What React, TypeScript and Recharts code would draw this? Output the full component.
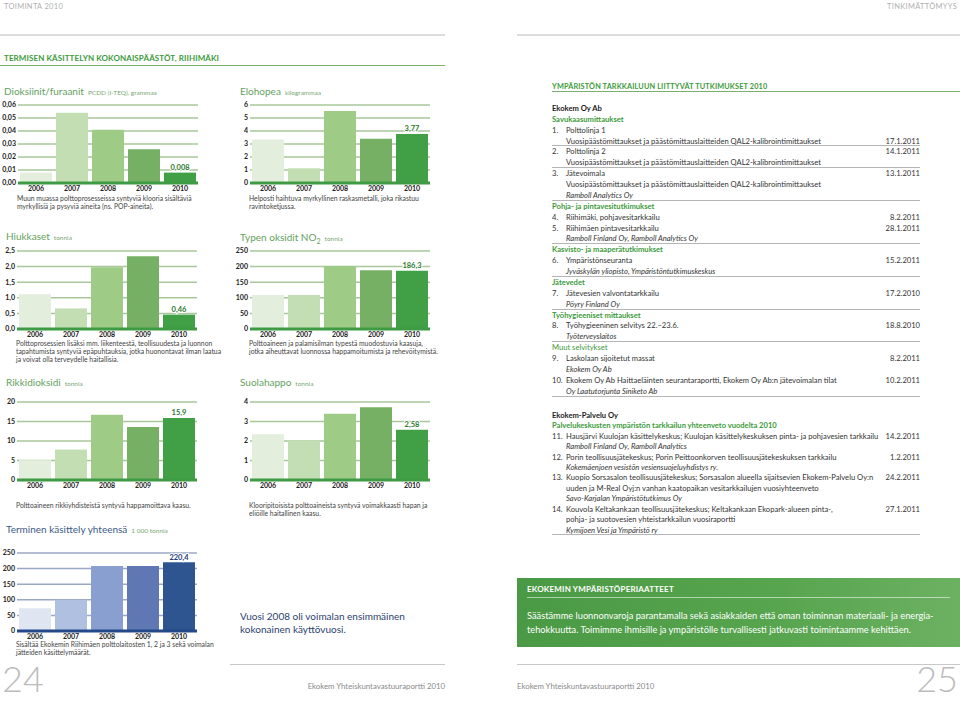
import { BarChart, Bar, XAxis, YAxis, CartesianGrid, Cell, LabelList } from 'recharts';

const years = ['2006', '2007', '2008', '2009', '2010'];

const dioxinValues = [0.008, 0.054, 0.041, 0.026, 0.008];
const mercuryValues = [3.35, 1.13, 5.54, 3.41, 3.77];
const particleValues = [1.11, 0.66, 1.98, 2.33, 0.46];
const noxValues = [109, 109, 202, 188, 186.3];
const so2Values = [5.1, 7.8, 16.7, 13.6, 15.9];
const hclValues = [2.34, 2.03, 3.4, 3.73, 2.58];
const thermalValues = [73, 100, 208, 208, 220.4];

const dioxinTicks = [0, 0.01, 0.02, 0.03, 0.04, 0.05, 0.06];
const mercuryTicks = [0, 1, 2, 3, 4, 5, 6];
const particleTicks = [0, 0.5, 1, 1.5, 2, 2.5];
const noxTicks = [0, 50, 100, 150, 200, 250];
const so2Ticks = [0, 5, 10, 15, 20];
const hclTicks = [0, 1, 2, 3, 4];
const thermalTicks = [0, 50, 100, 150, 200, 250];

const greenShades = ['#e3eedd', '#c4deb4', '#9ecb86', '#76b064', '#41a045'];
const blueShades = ['#dfe5f1', '#b0c0e0', '#889fcf', '#5f78b3', '#2f5591'];

// rows of the right-hand list: [kind, number, text, date, rule below]
const ekokemRows = [
  ['co', '', 'Ekokem Oy Ab', '', 0],
  ['h', '', 'Savukaasumittaukset', '', 0],
  ['i', '1.', 'Polttolinja 1', '', 0],
  ['i', '', 'Vuosipäästömittaukset ja päästömittauslaitteiden QAL2-kalibrointimittaukset', '17.1.2011', 1],
  ['i', '2.', 'Polttolinja 2', '14.1.2011', 0],
  ['i', '', 'Vuosipäästömittaukset ja päästömittauslaitteiden QAL2-kalibrointimittaukset', '', 1],
  ['i', '3.', 'Jätevoimala', '13.1.2011', 0],
  ['i', '', 'Vuosipäästömittaukset ja päästömittauslaitteiden QAL2-kalibrointimittaukset', '', 0],
  ['e', '', 'Ramboll Analytics Oy', '', 1],
  ['h', '', 'Pohja- ja pintavesitutkimukset', '', 0],
  ['i', '4.', 'Riihimäki, pohjavesitarkkailu', '8.2.2011', 0],
  ['i', '5.', 'Riihimäen pintavesitarkkailu', '28.1.2011', 0],
  ['e', '', 'Ramboll Finland Oy, Ramboll Analytics Oy', '', 1],
  ['h', '', 'Kasvisto- ja maaperätutkimukset', '', 0],
  ['i', '6.', 'Ympäristönseuranta', '15.2.2011', 0],
  ['e', '', 'Jyväskylän yliopisto, Ympäristöntutkimuskeskus', '', 1],
  ['h', '', 'Jätevedet', '', 0],
  ['i', '7.', 'Jätevesien valvontatarkkailu', '17.2.2010', 0],
  ['e', '', 'Pöyry Finland Oy', '', 1],
  ['h', '', 'Työhygieeniset mittaukset', '', 0],
  ['i', '8.', 'Työhygieeninen selvitys 22.–23.6.', '18.8.2010', 0],
  ['e', '', 'Työterveyslaitos', '', 1],
  ['m', '', 'Muut selvitykset', '', 0],
  ['i', '9.', 'Laskolaan sijoitetut massat', '8.2.2011', 0],
  ['e', '', 'Ekokem Oy Ab', '', 0],
  ['i', '10.', 'Ekokem Oy Ab Haittaeläinten seurantaraportti, Ekokem Oy Ab:n jätevoimalan tilat', '10.2.2011', 0],
  ['e', '', 'Oy Laatutorjunta Siniketo Ab', '', 1],
];

const palveluRows = [
  ['co', '', 'Ekokem-Palvelu Oy', '', 0],
  ['h', '', 'Palvelukeskusten ympäristön tarkkailun yhteenveto vuodelta 2010', '', 0],
  ['i', '11.', 'Hausjärvi Kuulojan käsittelykeskus; Kuulojan käsittelykeskuksen pinta- ja pohjavesien tarkkailu', '14.2.2011', 0],
  ['e', '', 'Ramboll Finland Oy, Ramboll Analytics', '', 0],
  ['i', '12.', 'Porin teollisuusjätekeskus; Porin Peittoonkorven teollisuusjätekeskuksen tarkkailu', '1.2.2011', 0],
  ['e', '', 'Kokemäenjoen vesistön vesiensuojeluyhdistys ry.', '', 0],
  ['i', '13.', 'Kuopio Sorsasalon teollisuusjätekeskus; Sorsasalon alueella sijaitsevien Ekokem-Palvelu Oy:n', '24.2.2011', 0],
  ['i', '', 'uuden ja M-Real Oyj:n vanhan kaatopaikan vesitarkkailujen vuosiyhteenveto', '', 0],
  ['e', '', 'Savo-Karjalan Ympäristötutkimus Oy', '', 0],
  ['i', '14.', 'Kouvola Keltakankaan teollisuusjätekeskus; Keltakankaan Ekopark-alueen pinta-,', '27.1.2011', 0],
  ['i', '', 'pohja- ja suotovesien yhteistarkkailun vuosiraportti', '', 0],
  ['e', '', 'Kymijoen Vesi ja Ympäristö ry', '', 1],
];

const FONT = 'Lato, "Open Sans", sans-serif';
const TITLE_GREEN = '#64a25e';
const HEAD_GREEN = '#3c9a3a';

function comma(v: number, d: number) {
  return v.toFixed(d).replace('.', ',');
}

function MiniChart({ plotLeft, plotTop, values, ticks, tickDec, labelDec, shades, base, grid, labelColor }: any) {
  const yw = 18;
  const mt = 8;
  const mr = 4;
  const xh = 14;
  const plotW = 180;
  const plotH = 78;
  const data = years.map((year, i) => ({
    year,
    value: values[i],
    tag: i === years.length - 1 ? comma(values[i], labelDec) : null,
  }));
  const renderTag = (props: any) => {
    if (props.value == null) return null;
    const vb = props.viewBox || props;
    return (
      <text
        x={vb.x + vb.width / 2}
        y={vb.y - 2.5}
        textAnchor="middle"
        fontSize={7.5}
        fontWeight={700}
        fill={labelColor}
        stroke="#ffffff"
        strokeWidth={2}
        paintOrder="stroke"
      >
        {props.value}
      </text>
    );
  };
  return (
    <div style={{ position: 'absolute', left: plotLeft - yw, top: plotTop - mt }}>
      <BarChart
        width={yw + plotW + mr}
        height={mt + plotH + xh}
        data={data}
        margin={{ top: mt, right: mr, bottom: 0, left: 0 }}
      >
        <CartesianGrid vertical={false} stroke={grid} strokeWidth={1.5} />
        <XAxis
          dataKey="year"
          height={xh}
          interval={0}
          tickLine={false}
          tickSize={0}
          tickMargin={3}
          axisLine={{ stroke: base, strokeWidth: 3 }}
          tick={{ fontSize: 7, fontWeight: 700, fill: '#222' }}
        />
        <YAxis
          width={yw}
          domain={[0, ticks[ticks.length - 1]]}
          ticks={ticks}
          interval={0}
          tickFormatter={(v: number) => comma(v, tickDec)}
          tickLine={false}
          tickSize={0}
          axisLine={false}
          tickMargin={2}
          tick={{ fontSize: 7, fontWeight: 700, fill: '#222' }}
        />
        <Bar dataKey="value" barSize={32} isAnimationActive={false}>
          {data.map((d, i) => (
            <Cell key={d.year} fill={shades[i]} />
          ))}
          <LabelList dataKey="tag" content={renderTag} />
        </Bar>
      </BarChart>
    </div>
  );
}

function Title({ left, top, text, sub, color = TITLE_GREEN, children }: any) {
  return (
    <div style={{ position: 'absolute', left, top, fontSize: 10, lineHeight: '12px', color, whiteSpace: 'nowrap' }}>
      {text}
      {children}
      <span style={{ fontSize: 6.5, marginLeft: 4, color: '#7aa874' }}>{sub}</span>
    </div>
  );
}

function Caption({ left, top, lines }: any) {
  return (
    <div style={{ position: 'absolute', left, top, fontSize: 6.8, lineHeight: '8px', color: '#444', whiteSpace: 'nowrap' }}>
      {lines.map((l: string) => (
        <div key={l}>{l}</div>
      ))}
    </div>
  );
}

function ListBlock({ rows, top, rowH }: any) {
  return (
    <div style={{ position: 'absolute', left: 552, top, width: 368, fontSize: 7.6 }}>
      {rows.map(([kind, num, text, date, rule]: any, i: number) => {
        const isHead = kind === 'co' || kind === 'h' || kind === 'm';
        return (
          <div key={i} style={{ position: 'relative', height: rowH, lineHeight: rowH + 'px', whiteSpace: 'nowrap' }}>
            {num ? <span style={{ position: 'absolute', left: 0, color: '#333' }}>{num}</span> : null}
            <span
              style={{
                position: 'absolute',
                left: isHead ? 0 : 14,
                color: kind === 'co' ? '#222' : isHead ? HEAD_GREEN : '#333',
                fontWeight: kind === 'co' || kind === 'h' ? 700 : 400,
                fontStyle: kind === 'e' ? 'italic' : 'normal',
              }}
            >
              {text}
            </span>
            {date ? <span style={{ position: 'absolute', right: 0, color: '#333' }}>{date}</span> : null}
            {rule ? <div style={{ position: 'absolute', left: 0, right: 0, bottom: 0, height: 1, background: '#b5b5b5' }} /> : null}
          </div>
        );
      })}
    </div>
  );
}

export default function App() {
  const green = { shades: greenShades, base: '#3f9a44', grid: '#a9c79a', labelColor: '#2c7a2e' };
  return (
    <div style={{ position: 'absolute', left: 0, top: 0, width: 960, height: 704, overflow: 'hidden', background: '#fff', fontFamily: FONT }}>
      {/* header */}
      <div style={{ position: 'absolute', left: 4, top: 2, fontSize: 7.5, color: '#b0b0b0', letterSpacing: 0.3 }}>TOIMINTA 2010</div>
      <div style={{ position: 'absolute', right: 3, top: 2, fontSize: 7.5, color: '#b0b0b0', letterSpacing: 0.3 }}>TINKIMÄTTÖMYYS</div>
      <div style={{ position: 'absolute', left: 0, top: 34, width: 445, height: 2, background: '#dcdcdc' }} />
      <div style={{ position: 'absolute', left: 517, top: 34, width: 443, height: 2, background: '#dcdcdc' }} />
      <div style={{ position: 'absolute', left: 4, top: 53, fontSize: 8, fontWeight: 700, color: HEAD_GREEN, letterSpacing: 0.1 }}>
        TERMISEN KÄSITTELYN KOKONAISPÄÄSTÖT, RIIHIMÄKI
      </div>
      <div style={{ position: 'absolute', left: 0, top: 65, width: 445, height: 1, background: '#7ab06a' }} />

      {/* charts */}
      <Title left={4} top={84.5} text="Dioksiinit/furaanit" sub="PCDD (I-TEQ), grammaa" />
      <MiniChart plotLeft={17.5} plotTop={105} values={dioxinValues} ticks={dioxinTicks} tickDec={2} labelDec={3} {...green} />
      <Caption left={17} top={193.5} lines={['Muun muassa polttoprosesseissa syntyviä klooria sisältäviä', 'myrkyllisiä ja pysyviä aineita (ns. POP-aineita).']} />

      <Title left={240} top={84.5} text="Elohopea" sub="kilogrammaa" />
      <MiniChart plotLeft={249.5} plotTop={105} values={mercuryValues} ticks={mercuryTicks} tickDec={0} labelDec={2} {...green} />
      <Caption left={249} top={194} lines={['Helposti haihtuva myrkyllinen raskasmetalli, joka rikastuu', 'ravintoketjussa.']} />

      <Title left={6} top={229.7} text="Hiukkaset" sub="tonnia" />
      <MiniChart plotLeft={17} plotTop={251} values={particleValues} ticks={particleTicks} tickDec={1} labelDec={2} {...green} />
      <Caption left={16} top={339} lines={['Polttoprosessien lisäksi mm. liikenteestä, teollisuudesta ja luonnon', 'tapahtumista syntyviä epäpuhtauksia, jotka huonontavat ilman laatua', 'ja voivat olla terveydelle haitallisia.']} />

      <Title left={240} top={230.7} text="Typen oksidit NO" sub="tonnia">
        <sub style={{ fontSize: 7 }}>2</sub>
      </Title>
      <MiniChart plotLeft={249.5} plotTop={251} values={noxValues} ticks={noxTicks} tickDec={0} labelDec={1} {...green} />
      <Caption left={249} top={339} lines={['Polttoaineen ja palamisilman typestä muodostuvia kaasuja,', 'jotka aiheuttavat luonnossa happamoitumista ja rehevöitymistä.']} />

      <Title left={6} top={375.7} text="Rikkidioksidi" sub="tonnia" />
      <MiniChart plotLeft={17} plotTop={402} values={so2Values} ticks={so2Ticks} tickDec={0} labelDec={1} {...green} />
      <Caption left={16} top={501} lines={['Polttoaineen rikkiyhdisteistä syntyvä happamoittava kaasu.']} />

      <Title left={240} top={375.7} text="Suolahappo" sub="tonnia" />
      <MiniChart plotLeft={249.5} plotTop={402} values={hclValues} ticks={hclTicks} tickDec={0} labelDec={2} {...green} />
      <Caption left={249} top={501} lines={['Klooripitoisista polttoaineista syntyvä voimakkaasti hapan ja', 'eliöille haitallinen kaasu.']} />

      <Title left={6} top={522.7} text="Terminen käsittely yhteensä" sub="1 000 tonnia" color="#3d5a86" />
      <MiniChart plotLeft={17} plotTop={553} values={thermalValues} ticks={thermalTicks} tickDec={0} labelDec={1} shades={blueShades} base="#24498a" grid="#9aa8c6" labelColor="#1d3d7a" />
      <Caption left={16} top={640} lines={['Sisältää Ekokemin Riihimäen polttolaitosten 1, 2 ja 3 sekä voimalan', 'jätteiden käsittelymäärät.']} />

      <div style={{ position: 'absolute', left: 240, top: 610, fontSize: 10, lineHeight: '13px', color: '#2c4270' }}>
        <div>Vuosi 2008 oli voimalan ensimmäinen</div>
        <div>kokonainen käyttövuosi.</div>
      </div>

      {/* right page list */}
      <div style={{ position: 'absolute', left: 552, top: 81.5, fontSize: 7.3, fontWeight: 700, color: HEAD_GREEN, letterSpacing: 0.15 }}>
        YMPÄRISTÖN TARKKAILUUN LIITTYVÄT TUTKIMUKSET 2010
      </div>
      <div style={{ position: 'absolute', left: 552, top: 91, width: 408, height: 1, background: '#7ab06a' }} />
      <ListBlock rows={ekokemRows} top={102.9} rowH={10.88} />
      <ListBlock rows={palveluRows} top={409.8} rowH={10.45} />

      {/* principles box */}
      <div style={{ position: 'absolute', left: 517, top: 578, width: 443, height: 69, background: 'linear-gradient(90deg, #4a9944 0%, #58a54f 60%, #6cb162 100%)' }}>
        <div style={{ position: 'absolute', left: 10, top: 6, fontSize: 8, fontWeight: 700, color: '#fff', letterSpacing: 0.2 }}>EKOKEMIN YMPÄRISTÖPERIAATTEET</div>
        <div style={{ position: 'absolute', left: 10, right: 10, top: 19, height: 1, background: 'rgba(255,255,255,0.55)' }} />
        <div style={{ position: 'absolute', left: 10, top: 31, fontSize: 9.25, lineHeight: '14px', color: '#fff', whiteSpace: 'nowrap' }}>
          <div>Säästämme luonnonvaroja parantamalla sekä asiakkaiden että oman toiminnan materiaali- ja energia-</div>
          <div>tehokkuutta. Toimimme ihmisille ja ympäristölle turvallisesti jatkuvasti toimintaamme kehittäen.</div>
        </div>
      </div>

      {/* footer */}
      <div style={{ position: 'absolute', left: 230, top: 664, width: 215, height: 1, background: '#c8c8c8' }} />
      <div style={{ position: 'absolute', left: 517, top: 664, width: 443, height: 1, background: '#c8c8c8' }} />
      <div style={{ position: 'absolute', left: 230, top: 681, width: 215, textAlign: 'right', fontSize: 7.8, color: '#8a8a8a' }}>Ekokem Yhteiskuntavastuuraportti 2010</div>
      <div style={{ position: 'absolute', left: 517, top: 681, fontSize: 7.8, color: '#8a8a8a' }}>Ekokem Yhteiskuntavastuuraportti 2010</div>
      <div style={{ position: 'absolute', left: 2, top: 660, fontSize: 36, lineHeight: '36px', fontWeight: 300, color: '#bcbcbc' }}>24</div>
      <div style={{ position: 'absolute', right: 2, top: 660, fontSize: 36, lineHeight: '36px', fontWeight: 300, color: '#bcbcbc' }}>25</div>
    </div>
  );
}
